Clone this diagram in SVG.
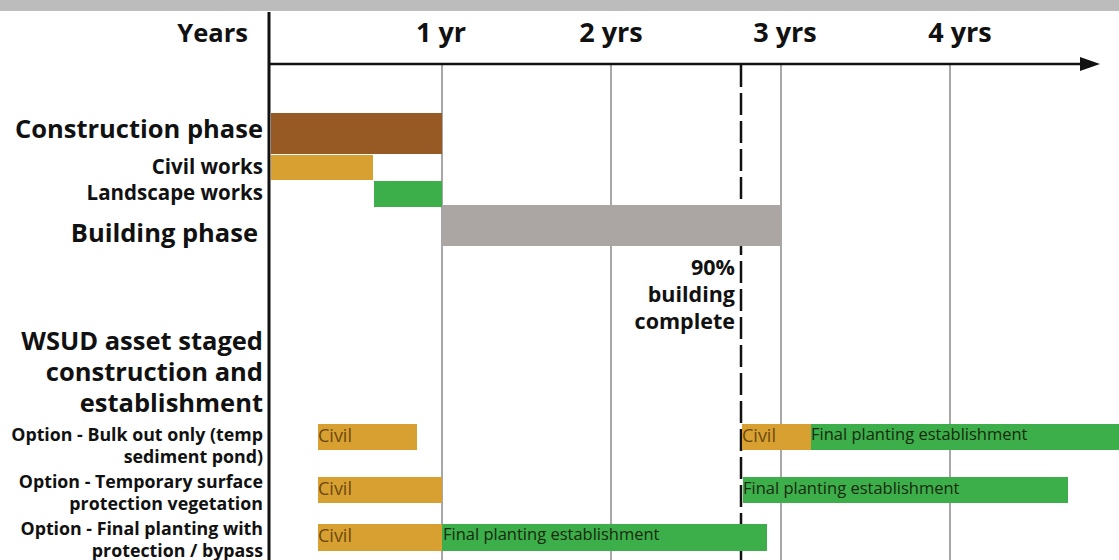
<svg xmlns="http://www.w3.org/2000/svg" width="1119" height="560" viewBox="0 0 1119 560">
<style>
text{font-family:"Open Sans","Liberation Sans",sans-serif;fill:#111}
.h{font-weight:700;font-size:27px;text-anchor:middle}
.hr{font-weight:700;font-size:25.5px;text-anchor:end}
.m{font-weight:700;font-size:21.5px;text-anchor:end}
.m2{font-weight:700;font-size:20.5px;text-anchor:end}
.s{font-weight:700;font-size:17.8px;text-anchor:end}
.civ{font-size:18px;fill:#6b4a10}
.fp{font-size:16.5px;fill:#1a2a10}
.grid{stroke:#8a8a8a;stroke-width:1.5}
</style>
<rect x="0" y="0" width="1119" height="560" fill="#fff"/>
<rect x="0" y="0" width="1119" height="11" fill="#bcbcbc"/>
<g id="axes">
<line class="grid" x1="442" y1="65" x2="442" y2="560"/>
<line class="grid" x1="611" y1="65" x2="611" y2="560"/>
<line class="grid" x1="781" y1="65" x2="781" y2="560"/>
<line class="grid" x1="950" y1="65" x2="950" y2="560"/>
<line x1="269" y1="12" x2="269" y2="560" stroke="#111" stroke-width="3"/>
<line x1="269" y1="64" x2="1090" y2="64" stroke="#111" stroke-width="2.5"/>
<path d="M1080,57 L1100,64 L1080,71 Z" fill="#111"/>
<line x1="741" y1="65" x2="741" y2="560" stroke="#111" stroke-width="2.5" stroke-dasharray="22,6"/>
</g>
<g id="header">
<text class="hr" x="248" y="42">Years</text>
<text class="h" x="441" y="42">1 yr</text>
<text class="h" x="611" y="42">2 yrs</text>
<text class="h" x="785" y="42">3 yrs</text>
<text class="h" x="960" y="42">4 yrs</text>
</g>
<g id="construction">
<rect x="271" y="113" width="171" height="41" fill="#975a25"/>
<text class="hr" x="263" y="138">Construction phase</text>
</g>
<g id="civil-works">
<rect x="271" y="155" width="102" height="25" fill="#d8a030"/>
<text class="m2" x="263" y="174">Civil works</text>
</g>
<g id="landscape-works">
<rect x="374" y="181" width="68" height="26" fill="#3caf4a"/>
<text class="m2" x="263" y="200">Landscape works</text>
</g>
<g id="building">
<rect x="443" y="205" width="338" height="41" fill="#aba6a4"/>
<text class="hr" x="258" y="242">Building phase</text>
</g>
<g id="milestone">
<text class="m" x="735" y="275">90%</text>
<text class="m" x="735" y="302">building</text>
<text class="m" x="735" y="329">complete</text>
</g>
<g id="wsud">
<text class="hr" x="263" y="350">WSUD asset staged</text>
<text class="hr" x="263" y="381">construction and</text>
<text class="hr" x="263" y="412">establishment</text>
</g>
<g id="option1">
<text class="s" x="263" y="441">Option - Bulk out only (temp</text>
<text class="s" x="263" y="463">sediment pond)</text>
<rect x="318" y="424" width="99" height="26" fill="#d8a030"/>
<text class="civ" x="318" y="442">Civil</text>
<rect x="742" y="424" width="70" height="26" fill="#d8a030"/>
<text class="civ" x="742" y="442">Civil</text>
<rect x="811" y="424" width="308" height="26" fill="#3caf4a"/>
<text class="fp" x="811" y="440">Final planting establishment</text>
</g>
<g id="option2">
<text class="s" x="263" y="488">Option - Temporary surface</text>
<text class="s" x="263" y="510">protection vegetation</text>
<rect x="318" y="477" width="124" height="26" fill="#d8a030"/>
<text class="civ" x="318" y="495">Civil</text>
<rect x="743" y="477" width="325" height="26" fill="#3caf4a"/>
<text class="fp" x="743" y="494">Final planting establishment</text>
</g>
<g id="option3">
<text class="s" x="263" y="535">Option - Final planting with</text>
<text class="s" x="263" y="557">protection / bypass</text>
<rect x="318" y="524" width="124" height="27" fill="#d8a030"/>
<text class="civ" x="318" y="542">Civil</text>
<rect x="442" y="524" width="325" height="27" fill="#3caf4a"/>
<text class="fp" x="443" y="540">Final planting establishment</text>
</g>
</svg>
